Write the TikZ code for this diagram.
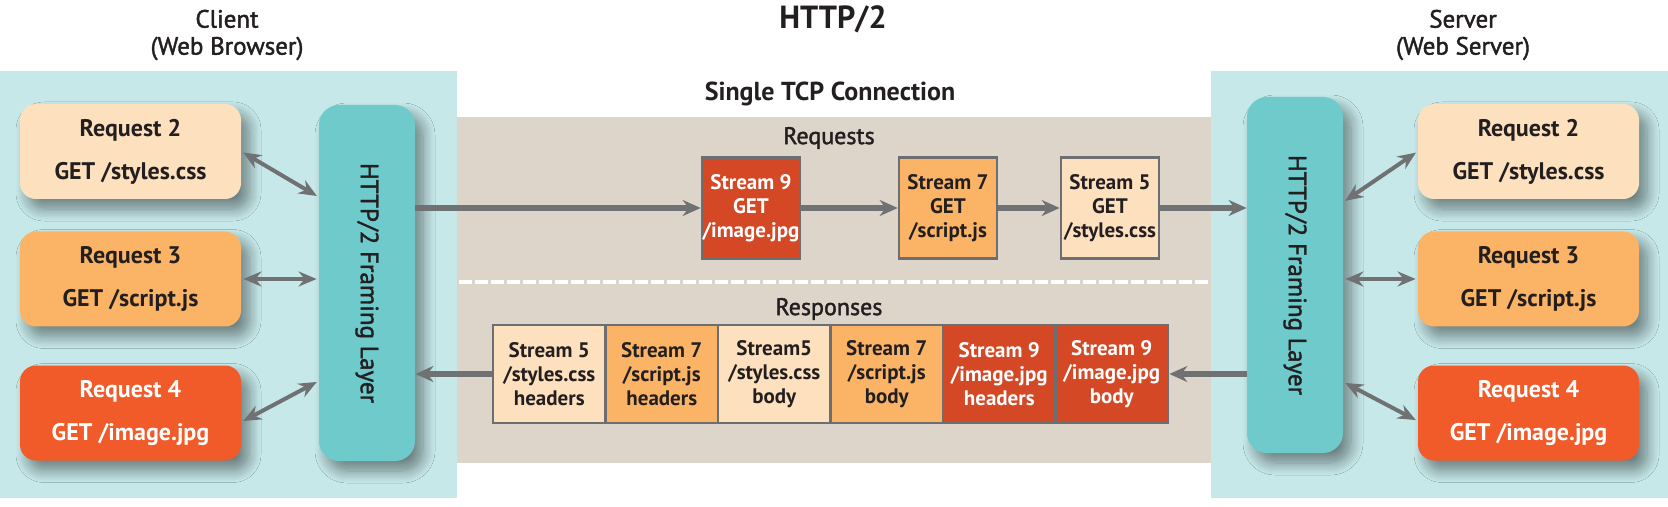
\documentclass[tikz,border=0pt]{standalone}
\usepackage{fontspec}
\setmainfont{PT Sans}
\newfontfamily\medfont[FakeBold=1.6]{PT Sans}
\usetikzlibrary{positioning, arrows.meta, shadows.blur}

\definecolor{panelcyan}{HTML}{C6E8E9}
\definecolor{framecyan}{HTML}{6FCACC}
\definecolor{beige}{HTML}{DDD5C9}
\definecolor{peach}{HTML}{FDE0BE}
\definecolor{orange}{HTML}{FBB466}
\definecolor{redorange}{HTML}{F15A29}
\definecolor{streamred}{HTML}{D44826}
\definecolor{bordergray}{HTML}{6D6E71}
\definecolor{arrowgray}{HTML}{707173}
\definecolor{ink}{HTML}{231F20}

\begin{document}
\begin{tikzpicture}[x=0.5pt, y=-0.5pt, text=ink,
    softshadow/.style={blur shadow={shadow xshift=4pt, shadow yshift=-5pt, shadow blur radius=6pt, shadow blur steps=10, shadow opacity=45}},
    request/.style={rectangle, rounded corners=8pt, minimum width=110.5pt, minimum height=47.5pt, align=center, font=\bfseries\fontsize{12}{21.5}\selectfont, softshadow},
    framing/.style={rectangle, rounded corners=10pt, fill=framecyan, minimum width=48pt, minimum height=178pt, softshadow},
    stream/.style={rectangle, draw=bordergray, line width=1.35pt, minimum width=49pt, minimum height=50.5pt, inner sep=0pt, align=center, font=\bfseries\fontsize{10.5}{12}\selectfont},
    cell/.style={stream, minimum width=56.25pt, minimum height=49pt},
    flow/.style={draw=arrowgray, line width=2.75pt, -{Stealth[length=9pt, width=8pt, inset=3pt]}},
    link/.style={draw=arrowgray, line width=2pt, {Stealth[length=9pt, width=7.5pt, inset=3pt]}-{Stealth[length=9pt, width=7.5pt, inset=3pt]}, shorten >=1pt, shorten <=1pt}]
  \useasboundingbox (0,0) rectangle (1668,507);

  % panels
  \fill[panelcyan] (0,71) rectangle (457,498);
  \fill[panelcyan] (1211,71) rectangle (1668,498);
  \fill[beige] (457,117) rectangle (1211,463);
  \draw[white, line width=2pt, dash pattern=on 6.5pt off 1.5pt] (459,282) -- (1210,282);

  % titles
  \node at (833,19) (title) [font=\bfseries\fontsize{16}{18}\selectfont] {HTTP/2};
  \node at (227,35) (client) [align=center, font=\medfont\fontsize{12.5}{13.5}\selectfont] {Client\\(Web Browser)};
  \node at (1463,35) (server) [align=center, font=\medfont\fontsize{12.5}{13.5}\selectfont] {Server\\(Web Server)};
  \node at (830,94) (tcp) [font=\bfseries\fontsize{13}{15}\selectfont] {Single TCP Connection};
  \node at (829,138) (reqlabel) [font=\medfont\fontsize{12}{13}\selectfont] {Requests};
  \node at (829,309) (resplabel) [font=\medfont\fontsize{12}{13}\selectfont] {Responses};

  % client side
  \node at (130.5,151.5) (creq2) [request, fill=peach] {Request 2\\GET /styles.css};
  \node at (130.5,279) (creq3) [request, fill=orange] {Request 3\\GET /script.js};
  \node at (130.5,413) (creq4) [request, fill=redorange, text=white] {Request 4\\GET /image.jpg};
  \node at (367,283) (cframe) [framing, label={[rotate=-90, font=\medfont\fontsize{12.5}{14}\selectfont]center:HTTP/2 Framing Layer}] {};

  % server side
  \node at (1528.5,151.5) (sreq2) [request, fill=peach] {Request 2\\GET /styles.css};
  \node at (1528.5,279) (sreq3) [request, fill=orange] {Request 3\\GET /script.js};
  \node at (1528.5,413) (sreq4) [request, fill=redorange, text=white] {Request 4\\GET /image.jpg};
  \node at (1295,275) (sframe) [framing, label={[rotate=-90, font=\medfont\fontsize{12.5}{14}\selectfont]center:HTTP/2 Framing Layer}] {};

  % request streams
  \node at (751,208) (s9) [stream, fill=streamred, text=white] {Stream 9\\GET\\/image.jpg};
  \node at (948,208) (s7) [stream, fill=orange] {Stream 7\\GET\\/script.js};
  \node at (1110,208) (s5) [stream, fill=peach] {Stream 5\\GET\\/styles.css};

  % response frames
  \node at (549.25,374) (r1) [cell, fill=peach] {Stream 5\\/styles.css\\headers};
  \node (r2) [cell, fill=orange, right=-1.35pt of r1] {Stream 7\\/script.js\\headers};
  \node (r3) [cell, fill=peach, right=-1.35pt of r2] {Stream5\\/styles.css\\body};
  \node (r4) [cell, fill=orange, right=-1.35pt of r3] {Stream 7\\/script.js\\body};
  \node (r5) [cell, fill=streamred, text=white, right=-1.35pt of r4] {Stream 9\\/image.jpg\\headers};
  \node (r6) [cell, fill=streamred, text=white, right=-1.35pt of r5] {Stream 9\\/image.jpg\\body};

  % connections
  \draw[flow] (cframe.east |- s9.west) -- (s9.west);
  \draw[flow] (s9.east) -- (s7.west);
  \draw[flow] (s7.east) -- (s5.west);
  \draw[flow] (s5.east) -- (sframe.west |- s5.east);
  \draw[flow] (sframe.west |- r6.east) -- (r6.east);
  \draw[flow] (r1.west) -- (cframe.east |- r1.west);

  \draw[link] (creq2.east) -- ([yshift=43pt]cframe.west);
  \draw[link] (creq3.east) -- (cframe.west |- creq3.east);
  \draw[link] ([yshift=-4.5pt]creq4.east) -- ([yshift=-49pt]cframe.west);
  \draw[link] ([yshift=36.5pt]sframe.east) -- (sreq2.west);
  \draw[link] (sframe.east |- sreq3.west) -- (sreq3.west);
  \draw[link] ([yshift=-53.5pt]sframe.east) -- ([yshift=-4pt]sreq4.west);
\end{tikzpicture}
\end{document}
